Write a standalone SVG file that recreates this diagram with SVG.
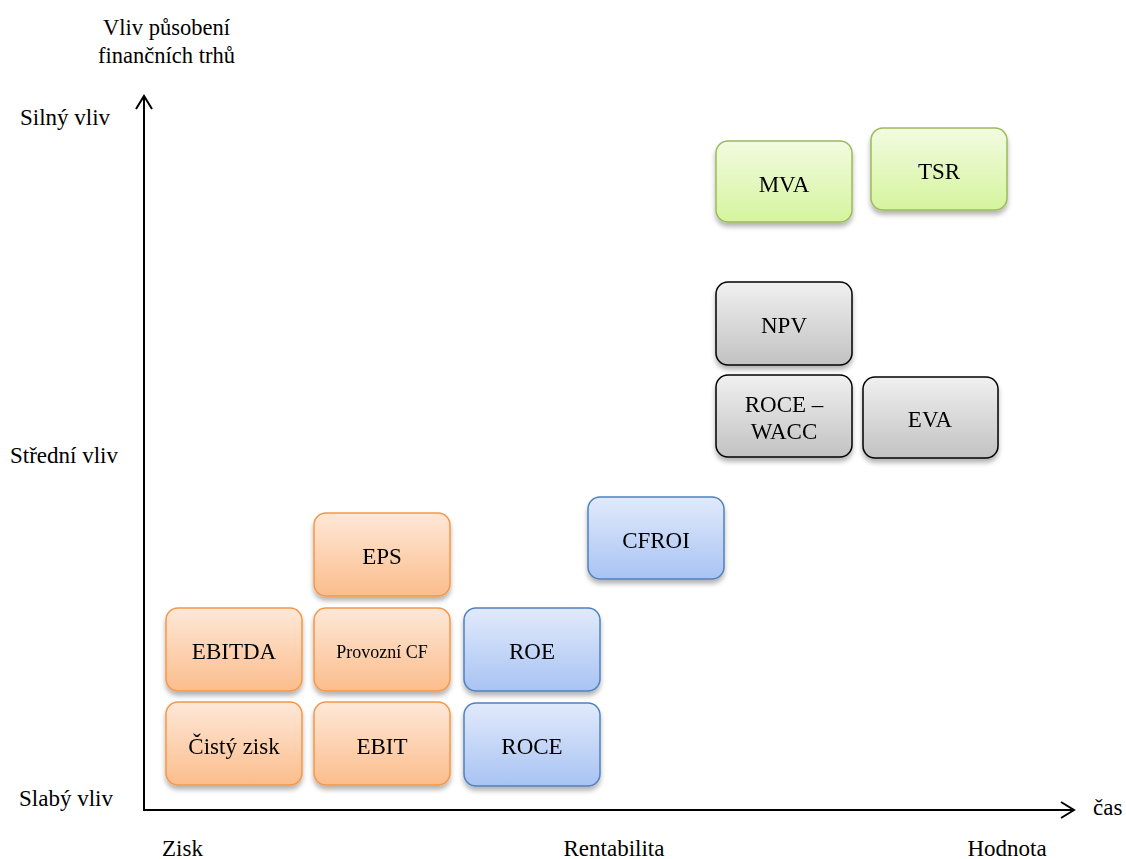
<svg xmlns="http://www.w3.org/2000/svg" width="1126" height="859" viewBox="0 0 1126 859">
<style>
text{font-family:"Liberation Serif","Times New Roman",serif;fill:#000}
.lbl{font-size:23px}
.ttl{font-size:22.5px;text-anchor:middle}
.bt{font-size:23px;text-anchor:middle}
.sm{font-size:18px;text-anchor:middle}
.o{fill:url(#go);stroke:#f79646;stroke-width:1.5}
.b{fill:url(#gb);stroke:#4f81bd;stroke-width:1.5}
.g{fill:url(#gg);stroke:#9bbb59;stroke-width:1.5}
.k{fill:url(#gk);stroke:#000;stroke-width:1.5}
.box{filter:url(#sh)}
.ax{stroke:#000;stroke-width:2;fill:none}
</style>
<defs>
<linearGradient id="go" x1="0" y1="0" x2="0" y2="1"><stop offset="0" stop-color="#fee8d8"/><stop offset="1" stop-color="#fbbd8c"/></linearGradient>
<linearGradient id="gb" x1="0" y1="0" x2="0" y2="1"><stop offset="0" stop-color="#e1eafb"/><stop offset="1" stop-color="#a8c3f3"/></linearGradient>
<linearGradient id="gg" x1="0" y1="0" x2="0" y2="1"><stop offset="0" stop-color="#f2fbe0"/><stop offset="1" stop-color="#d5f49e"/></linearGradient>
<linearGradient id="gk" x1="0" y1="0" x2="0" y2="1"><stop offset="0" stop-color="#f0f0f0"/><stop offset="1" stop-color="#c2c2c2"/></linearGradient>
<filter id="sh" x="-10%" y="-10%" width="130%" height="140%"><feGaussianBlur in="SourceAlpha" stdDeviation="2.5"/><feOffset dx="0" dy="4"/><feComponentTransfer><feFuncA type="linear" slope="0.3"/></feComponentTransfer><feMerge><feMergeNode/><feMergeNode in="SourceGraphic"/></feMerge></filter>
</defs>
<rect width="1126" height="859" fill="#fff"/>
<g id="connectors">
<line class="ax" x1="144" y1="811" x2="144" y2="96"/>
<polyline class="ax" points="136,109 144,96 152,109"/>
<line class="ax" x1="143" y1="810" x2="1074" y2="810"/>
<polyline class="ax" points="1061,802 1074,810 1061,818"/>
</g>
<g id="labels">
<text class="ttl" x="166.5" y="35">Vliv působení</text>
<text class="ttl" x="166.5" y="63">finančních trhů</text>
<text class="lbl" x="20" y="125">Silný vliv</text>
<text class="lbl" x="10" y="463">Střední vliv</text>
<text class="lbl" x="19" y="806">Slabý vliv</text>
<text class="lbl" x="162" y="856">Zisk</text>
<text class="lbl" x="614" y="856" text-anchor="middle">Rentabilita</text>
<text class="lbl" x="1007" y="856" text-anchor="middle">Hodnota</text>
<text class="lbl" x="1093" y="815">čas</text>
</g>
<g id="n-ebitda" class="box"><rect class="o" x="166" y="608" width="136" height="83" rx="12"/><text class="bt" x="234" y="659">EBITDA</text></g>
<g id="n-provozni" class="box"><rect class="o" x="314" y="608" width="136" height="83" rx="12"/><text class="sm" x="382" y="658">Provozní CF</text></g>
<g id="n-cisty" class="box"><rect class="o" x="166" y="702" width="136" height="83" rx="12"/><text class="bt" x="234" y="754">Čistý zisk</text></g>
<g id="n-ebit" class="box"><rect class="o" x="314" y="702" width="136" height="83" rx="12"/><text class="bt" x="382" y="754">EBIT</text></g>
<g id="n-eps" class="box"><rect class="o" x="314" y="513" width="136" height="83" rx="12"/><text class="bt" x="382" y="564">EPS</text></g>
<g id="n-roe" class="box"><rect class="b" x="464" y="608" width="136" height="83" rx="12"/><text class="bt" x="532" y="659">ROE</text></g>
<g id="n-roce" class="box"><rect class="b" x="464" y="703" width="136" height="83" rx="12"/><text class="bt" x="532" y="754">ROCE</text></g>
<g id="n-cfroi" class="box"><rect class="b" x="588" y="497" width="136" height="82" rx="12"/><text class="bt" x="656" y="548">CFROI</text></g>
<g id="n-mva" class="box"><rect class="g" x="716" y="141" width="136" height="81" rx="12"/><text class="bt" x="784" y="192">MVA</text></g>
<g id="n-tsr" class="box"><rect class="g" x="871" y="128" width="136" height="82" rx="12"/><text class="bt" x="939" y="179">TSR</text></g>
<g id="n-npv" class="box"><rect class="k" x="716" y="282" width="136" height="83" rx="12"/><text class="bt" x="784" y="333">NPV</text></g>
<g id="n-rocewacc" class="box"><rect class="k" x="716" y="375" width="136" height="82" rx="12"/><text class="bt" x="784" y="412">ROCE –</text><text class="bt" x="784" y="439">WACC</text></g>
<g id="n-eva" class="box"><rect class="k" x="863" y="377" width="135" height="81" rx="12"/><text class="bt" x="930" y="427">EVA</text></g>
</svg>
